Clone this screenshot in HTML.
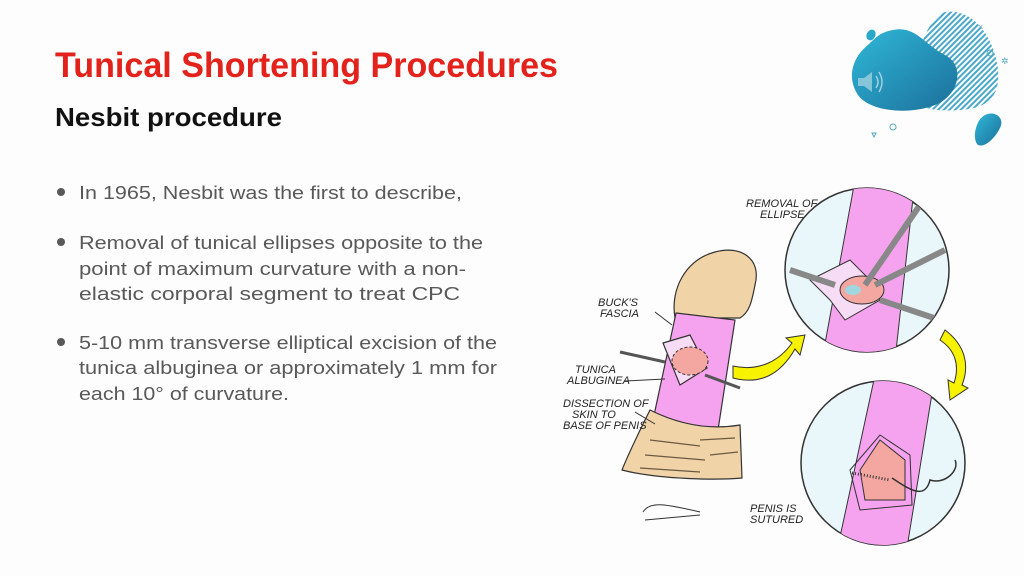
<!DOCTYPE html>
<html><head><meta charset="utf-8"><style>
html,body{margin:0;padding:0;background:#fff;}
svg{display:block}
text{font-family:"Liberation Sans",sans-serif}
.b{fill:#595959;font-size:18.5px}
.h{font-family:"Liberation Sans Narrow","Liberation Sans",sans-serif;font-size:11px;fill:#222;font-style:italic}
</style></head><body>
<svg width="1024" height="576" viewBox="0 0 1024 576" xmlns="http://www.w3.org/2000/svg">
<rect width="1024" height="576" fill="#fdfdfd"/>
<text x="55" y="77" font-size="35" font-weight="bold" fill="#e3231b" textLength="503" lengthAdjust="spacingAndGlyphs">Tunical Shortening Procedures</text>
<text x="55" y="126" font-size="26" font-weight="bold" fill="#111" textLength="227" lengthAdjust="spacingAndGlyphs">Nesbit procedure</text>
<g fill="#595959">
<circle cx="61" cy="192" r="4"/><circle cx="61" cy="242" r="4"/><circle cx="61" cy="342" r="4"/>
</g>
<text class="b" x="79" y="199" textLength="383" lengthAdjust="spacingAndGlyphs">In 1965, Nesbit was the first to describe,</text>
<text class="b" x="79" y="249" textLength="404" lengthAdjust="spacingAndGlyphs">Removal of tunical ellipses opposite to the</text>
<text class="b" x="79" y="275" textLength="387" lengthAdjust="spacingAndGlyphs">point of maximum curvature with a non-</text>
<text class="b" x="79" y="300" textLength="381" lengthAdjust="spacingAndGlyphs">elastic corporal segment to treat CPC</text>
<text class="b" x="79" y="349" textLength="418" lengthAdjust="spacingAndGlyphs">5-10 mm transverse elliptical excision of the</text>
<text class="b" x="79" y="374" textLength="418" lengthAdjust="spacingAndGlyphs">tunica albuginea or approximately 1 mm for</text>
<text class="b" x="79" y="400" textLength="210" lengthAdjust="spacingAndGlyphs">each 10° of curvature.</text>

<defs>
<linearGradient id="g1" x1="0" y1="0" x2="1" y2="1"><stop offset="0" stop-color="#2fb8d8"/><stop offset="1" stop-color="#1c6f9a"/></linearGradient>
<pattern id="st" width="4" height="4" patternUnits="userSpaceOnUse" patternTransform="rotate(45)"><rect width="2" height="4" fill="#4aa8c8"/></pattern>
<clipPath id="c1"><circle cx="867" cy="270" r="82"/></clipPath>
<clipPath id="c2"><circle cx="883" cy="463" r="82"/></clipPath>
</defs>
<path d="M945 12 C975 8 995 40 998 70 C1000 95 990 108 960 110 C930 112 905 108 912 80 C918 55 925 20 945 12Z" fill="url(#st)"/>
<path d="M893 30 C915 25 925 45 945 55 C965 65 960 95 935 105 C910 115 870 112 858 95 C845 75 855 55 868 45 C878 35 882 32 893 30Z" fill="url(#g1)"/>
<path d="M870 30 C876 28 878 36 872 40 C866 42 864 34 870 30Z" fill="#2aa8cc"/>
<path d="M985 115 C995 110 1005 118 1000 128 C995 138 985 148 978 145 C972 140 975 120 985 115Z" fill="url(#g1)"/>
<path d="M858 78 L864 78 L872 72 L872 92 L864 86 L858 86Z" fill="#9fd0e0" opacity=".8"/>
<path d="M876 76 Q880 82 876 88 M879 72 Q885 82 879 92" stroke="#9fd0e0" fill="none" stroke-width="1.5"/>
<circle cx="893" cy="127" r="3" fill="none" stroke="#5ab" stroke-width="1"/>
<circle cx="990" cy="53" r="3" fill="none" stroke="#5ab" stroke-width="1"/>
<text x="978" y="30" font-size="9" fill="#5ab">×</text>
<text x="1001" y="64" font-size="9" fill="#5ab">✲</text>
<path d="M872 133 L876 133 L874 137Z" fill="none" stroke="#5ab"/>

<!-- glans -->
<path d="M675 318 C670 290 685 260 715 252 C740 245 762 258 755 285 C752 300 750 312 740 318 Z" fill="#f1d3a8" stroke="#333" stroke-width="1.2"/>
<!-- shaft -->
<path d="M676 313 L735 320 L718 430 L653 420 Z" fill="#f5a3ee" stroke="#333" stroke-width="1.2"/>
<!-- base -->
<path d="M650 410 C680 425 710 430 740 425 L742 478 C720 480 660 480 622 470 C630 450 640 430 650 410Z" fill="#f1d3a8" stroke="#333" stroke-width="1.2"/>
<g stroke="#6a5a40" stroke-width="1.2">
<line x1="650" y1="440" x2="700" y2="446"/><line x1="645" y1="455" x2="705" y2="460"/><line x1="700" y1="440" x2="735" y2="438"/><line x1="710" y1="455" x2="738" y2="452"/><line x1="640" y1="468" x2="700" y2="472"/>
</g>
<path d="M663 343 L690 335 L707 368 L680 385 Z" fill="#f7dcf5" stroke="#333" stroke-width="1.2"/>
<ellipse cx="690" cy="361" rx="18" ry="14" fill="#f4a7a0" stroke="#333" stroke-dasharray="3 2"/>
<g stroke="#555" stroke-width="3"><line x1="620" y1="352" x2="665" y2="362"/><line x1="705" y1="375" x2="740" y2="388"/></g>
<text class="h" x="598" y="306">BUCK'S</text><text class="h" x="600" y="317">FASCIA</text>
<text class="h" x="575" y="373">TUNICA</text><text class="h" x="567" y="384">ALBUGINEA</text>
<text class="h" x="563" y="407">DISSECTION OF</text><text class="h" x="572" y="418">SKIN TO</text><text class="h" x="563" y="429">BASE OF PENIS</text>
<text class="h" x="746" y="207">REMOVAL OF</text><text class="h" x="760" y="218">ELLIPSE</text>
<text class="h" x="750" y="512">PENIS IS</text><text class="h" x="750" y="523">SUTURED</text>
<g stroke="#333" fill="none"><line x1="655" y1="312" x2="672" y2="325"/><line x1="625" y1="381" x2="665" y2="379"/><line x1="635" y1="412" x2="655" y2="424"/></g>
<path d="M643 512 C650 500 670 505 700 512 M645 520 L700 515" stroke="#333" fill="none"/>
<!-- circle 1 -->
<circle cx="867" cy="270" r="82" fill="#e9f7fa" stroke="#333" stroke-width="1.5"/>
<g clip-path="url(#c1)">
<path d="M855 180 L915 180 L895 360 L822 360 Z" fill="#f5a3ee" stroke="#333"/>
<path d="M810 280 L850 260 L870 280 L880 300 L845 320 L830 300Z" fill="#f7dcf5" stroke="#333"/>
<ellipse cx="862" cy="290" rx="22" ry="14" fill="#f4a7a0" stroke="#333"/>
<ellipse cx="853" cy="290" rx="8" ry="5" fill="#9fd6e0"/>
<g stroke="#888" stroke-width="6"><line x1="790" y1="270" x2="835" y2="285"/><line x1="880" y1="300" x2="940" y2="320"/><line x1="875" y1="285" x2="945" y2="250"/><line x1="865" y1="285" x2="920" y2="205"/></g>
</g>
<!-- circle 2 -->
<circle cx="883" cy="463" r="82" fill="#e9f7fa" stroke="#333" stroke-width="1.5"/>
<g clip-path="url(#c2)">
<path d="M875 375 L935 375 L905 560 L835 560 Z" fill="#f5a3ee" stroke="#333"/>
<path d="M860 470 L880 440 L905 460 L905 500 L865 500 Z" fill="#f4a7a0" stroke="#333"/>
<path d="M850 470 L880 435 L910 455 L912 505 L860 510 Z" fill="none" stroke="#333"/>
<line x1="852" y1="473" x2="890" y2="480" stroke="#333" stroke-dasharray="1 2" stroke-width="3"/>
<path d="M892 478 C910 490 925 500 930 480 C945 485 960 470 955 460" stroke="#333" fill="none" stroke-width="1.5"/>
</g>
<path d="M733 366 C760 372 780 360 792 343 L786 338 L805 335 L800 355 L795 349 C780 375 760 385 733 378Z" fill="#f6f200" stroke="#333"/>
<path d="M945 330 C965 345 970 365 962 385 L968 388 L950 400 L948 380 L954 383 C960 365 955 350 940 340Z" fill="#f6f200" stroke="#333"/>
</svg>
</body></html>
